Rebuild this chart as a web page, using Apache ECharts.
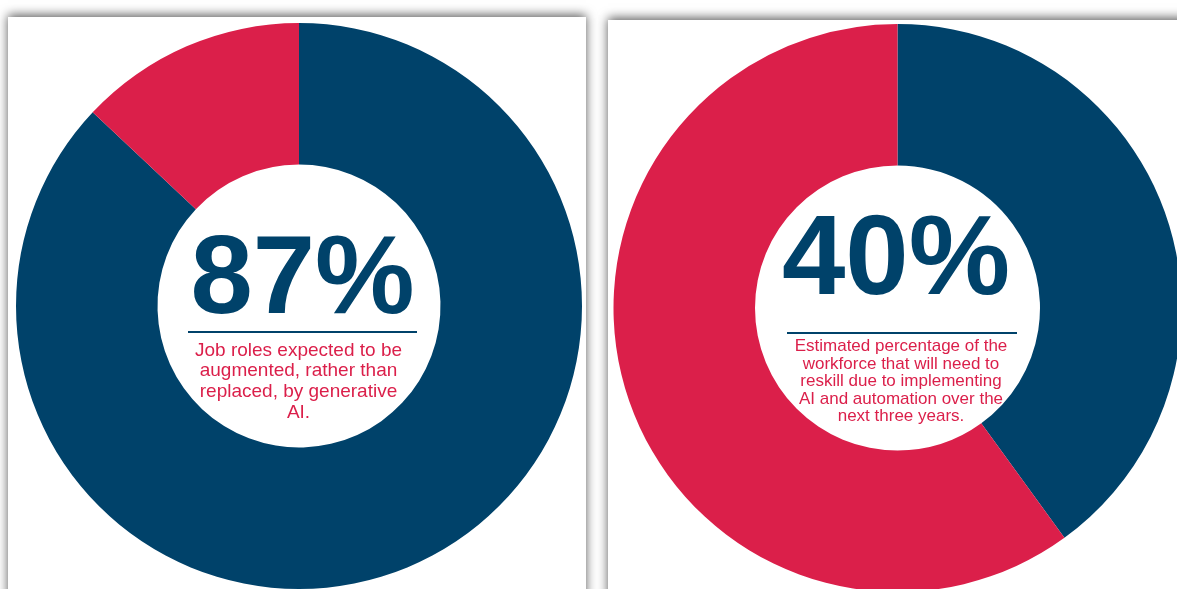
<!DOCTYPE html>
<html>
<head>
<meta charset="utf-8">
<script src="https://cdn.jsdelivr.net/npm/echarts@6/dist/echarts.min.js"></script>
<style>
  html, body { margin: 0; padding: 0; background: #ffffff; overflow: hidden; }
  #chart { position: absolute; left: 0; top: 0; width: 1177px; height: 589px; }
</style>
</head>
<body>
<div id="chart"></div>
<script>
// Share of job roles: augmented vs. replaced by generative AI
const roleCategories = ['Augmented', 'Replaced'];
const roleValues = [87, 13];
const roleCaption = 'Job roles expected to be\naugmented, rather than\nreplaced, by generative\nAI.';

// Share of the workforce that will need to reskill
const reskillCategories = ['Need to reskill', 'Other'];
const reskillValues = [40, 60];
const reskillCaption = 'Estimated percentage of the\nworkforce that will need to\nreskill due to implementing\nAI and automation over the\nnext three years.';

const NAVY = '#00426a';
const RED = '#db1f4a';

const pct = vals => Math.round(vals[0] / vals.reduce((a, b) => a + b, 0) * 100) + '%';

const chart = echarts.init(document.getElementById('chart'), null, { renderer: 'canvas' });

function donut(name, cats, vals, center, radius) {
  return {
    name: name,
    type: 'pie',
    center: center,
    radius: radius,
    startAngle: 90,
    clockwise: true,
    silent: true,
    label: { show: false },
    labelLine: { show: false },
    emphasis: { disabled: true },
    itemStyle: { borderWidth: 0 },
    data: cats.map((c, i) => ({ name: c, value: vals[i], itemStyle: { color: i === 0 ? NAVY : RED } }))
  };
}

const card = (x, y, w, h) => ({
  type: 'rect', z: 0,
  shape: { x: x, y: y, width: w, height: h },
  style: { fill: '#ffffff', shadowBlur: 10, shadowColor: 'rgba(0,0,0,0.65)', shadowOffsetY: -2 }
});

const bigText = (text, x, y, size) => ({
  type: 'text', z: 100, x: x, y: y,
  style: {
    text: text, fill: NAVY, align: 'center', verticalAlign: 'bottom',
    font: 'bold ' + size + 'px "Liberation Sans", Arial, sans-serif'
  }
});

const rule = (x1, x2, y) => ({
  type: 'line', z: 100,
  shape: { x1: x1, y1: y, x2: x2, y2: y },
  style: { stroke: NAVY, lineWidth: 2 }
});

const caption = (text, x, y, size, lh) => ({
  type: 'text', z: 100, x: x, y: y,
  style: {
    text: text, fill: RED, align: 'center', verticalAlign: 'top',
    font: size + 'px "Liberation Sans", Arial, sans-serif', lineHeight: lh
  }
});

chart.setOption({
  animation: false,
  backgroundColor: '#ffffff',
  graphic: {
    elements: [
      card(8, 17, 578, 620),
      card(608, 20, 620, 620),
      bigText(pct(roleValues), 302.5, 338, 112),
      rule(188, 417, 332),
      caption(roleCaption, 298.5, 340, 19, 20.7),
      bigText(pct(reskillValues), 896, 320, 114),
      rule(787, 1017, 333),
      caption(reskillCaption, 901, 337.5, 17, 17.6)
    ]
  },
  series: [
    donut('Job roles', roleCategories, roleValues, [299, 306], [141.5, 283]),
    donut('Workforce reskilling', reskillCategories, reskillValues, [897.5, 308], [142.5, 284])
  ]
});
</script>
</body>
</html>
